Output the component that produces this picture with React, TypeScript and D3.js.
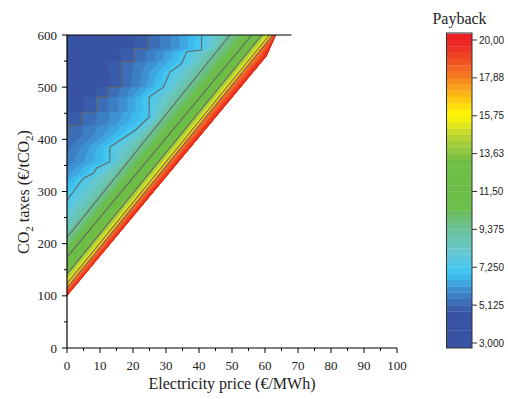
import React, { useMemo } from "react";
import * as d3 from "d3";

const WIDTH = 508;
const HEIGHT = 399;

// Axis ticks
const xTickValues = [0, 10, 20, 30, 40, 50, 60, 70, 80, 90, 100];
const xMinorTicks = [5, 15, 25, 35, 45, 55, 65, 75, 85, 95];
const yTickValues = [0, 100, 200, 300, 400, 500, 600];
const yMinorTicks = [50, 150, 250, 350, 450, 550];

// Colour scale ticks
const colorTickValues = [3, 5.125, 7.25, 9.375, 11.5, 13.625, 15.75, 17.875, 20];
const colorTickLabels = ["3,000", "5,125", "7,250", "9,375", "11,50", "13,63", "15,75", "17,88", "20,00"];

// Payback iso-lines: [electricity price, CO2 tax]
const isoLevels = [5.125, 7.25, 9.375, 11.5, 13.625, 15.75, 17.875, 20];
const iso5125: [number, number][] = [
  [-6, 356], [0, 404], [0.4, 404.5], [0.4, 427], [4.5, 427.5], [4.5, 452], [9, 452.5], [9, 481], [12.5, 481.5],
  [12.5, 500], [16.6, 500.5], [16.6, 549], [20.3, 549.5], [20.3, 574], [24.6, 574.5], [24.6, 600],
];
const iso725: [number, number][] = [
  [-6, 230], [0, 283], [4.9, 325], [8, 335], [9, 345], [13, 357], [13, 385], [20.6, 417], [24.9, 443],
  [24.9, 481], [29.2, 500], [31.2, 529], [34.7, 545], [36.3, 568], [40.8, 571], [40.8, 600],
];
const iso9375: [number, number][] = [[0, 212], [49.4, 600]];
const iso115: [number, number][] = [[0, 174], [56, 600]];
const iso13625: [number, number][] = [[0, 142], [59, 600]];
const iso1575: [number, number][] = [[0, 124], [61.3, 600]];
const iso17875: [number, number][] = [[0, 115], [62.4, 600]];
const iso20: [number, number][] = [[0, 100], [60.5, 560], [63.3, 600]];
const isoLines = [iso5125, iso725, iso9375, iso115, iso13625, iso1575, iso17875, iso20];

// Colour palette (payback value -> colour)
const paletteStops = [2.6, 4.75, 5.0, 5.4, 5.8, 6.2, 6.6, 7.0, 7.5, 8.1, 8.8, 9.4, 10.0, 10.6, 13.1, 13.7, 14.3, 14.9, 15.5, 15.9, 16.4, 16.9, 17.4, 17.9, 18.5, 19.1, 19.7, 20.4];
const paletteColors = ["#3953a4", "#3953a4", "#3a60ad", "#3b72ba", "#3d86c8", "#3e9bd8", "#3db3e8", "#3ec6f2", "#55c8e6", "#66c8cf", "#69c4b2", "#6ac199", "#6bbf75", "#6bbe4a", "#6dbe45", "#8bc640", "#a8cf38", "#cadc2a", "#f3ee10", "#fff200", "#fed80b", "#fcba13", "#f89c1c", "#f57f20", "#f26223", "#ef4524", "#ed2a24", "#ed1c24"];

function crossingX(line: [number, number][], yy: number) {
  let i = 0;
  while (i < line.length - 2 && yy > line[i + 1][1]) i++;
  const [x0, y0] = line[i];
  const [x1, y1] = line[i + 1];
  return x0 + ((yy - y0) * (x1 - x0)) / (y1 - y0);
}

function paybackAt(xx: number, xs: number[], ws: number[]) {
  const n = xs.length;
  let k = 0;
  if (xx <= xs[0]) k = 0;
  else if (xx >= xs[n - 1]) k = n - 2;
  else {
    while (xx > xs[k + 1]) k++;
  }
  const span = Math.max(1e-6, xs[k + 1] - xs[k]);
  const t = (xx - xs[k]) / span;
  const w = ws[k] + t * (ws[k + 1] - ws[k]);
  if (w <= 0.01) return 100;
  return Math.max(2.7, Math.min(100, 1 / w));
}

export default function App() {
  const x = d3.scaleLinear().domain([0, 100]).range([67, 397]);
  const y = d3.scaleLinear().domain([0, 600]).range([348, 35]);
  const cy = d3.scaleLinear().domain([3, 20]).range([343, 40]);
  const palette = d3
    .scaleLinear<string>()
    .domain(paletteStops)
    .range(paletteColors)
    .interpolate(d3.interpolateRgb)
    .clamp(true);

  const step = 17 / 48;
  const thresholds = d3.range(-1, 49).map((k) => 3 + k * step);

  const bands = useMemo(() => {
    const x0 = 0, dx = 0.25, nx = 270;
    const y0 = 90, dy = 1.5, ny = 345;
    const ws = isoLevels.map((v) => 1 / v);
    const values: number[] = new Array(nx * ny);
    for (let j = 0; j < ny; j++) {
      const yy = y0 + j * dy;
      const xs = isoLines.map((l) => crossingX(l, yy));
      for (let k = 1; k < xs.length; k++) if (xs[k] < xs[k - 1] + 0.05) xs[k] = xs[k - 1] + 0.05;
      for (let i = 0; i < nx; i++) {
        values[j * nx + i] = paybackAt(x0 + i * dx, xs, ws);
      }
    }
    const contours = d3.contours().size([nx, ny]).thresholds(thresholds)(values);
    const proj = d3.geoTransform({
      point(px: number, py: number) {
        (this as any).stream.point(x(x0 + (px - 0.5) * dx), y(y0 + (py - 0.5) * dy));
      },
    });
    const path = d3.geoPath(proj);
    return contours.map((c) => ({ d: path(c as any) || "", value: c.value }));
  }, []);

  const clipD =
    "M" +
    iso20.map((p) => `${x(p[0])},${y(p[1])}`).join("L") +
    `L${x(0)},${y(600)}Z`;

  const line = d3
    .line<[number, number]>()
    .x((d) => x(d[0]))
    .y((d) => y(d[1]));

  const serif = "'Liberation Serif', 'Times New Roman', serif";
  const sans = "'Liberation Sans', Arial, sans-serif";

  const barX0 = 446.5, barX1 = 472, barTop = 33, barBottom = 348;

  return (
    <svg width={WIDTH} height={HEIGHT} style={{ position: "absolute", left: 0, top: 0, background: "#fff" }}>
      <defs>
        <clipPath id="valid">
          <path d={clipD} />
        </clipPath>
        <clipPath id="bar">
          <rect x={barX0} y={barTop} width={barX1 - barX0} height={barBottom - barTop} />
        </clipPath>
      </defs>
      <g clipPath="url(#valid)">
        {bands.map((b, i) => (
          <path key={i} d={b.d} fill={palette(b.value + step / 2)} stroke="none" />
        ))}
        {isoLines.slice(0, 7).map((l, i) => (
          <path key={"l" + i} d={line(l) || ""} fill="none" stroke="#666" strokeWidth={1.1} />
        ))}
      </g>

      {/* axes */}
      <line x1={x(0)} x2={x(100)} y1={y(0)} y2={y(0)} stroke="#000" strokeWidth={1.2} />
      <line x1={x(0)} x2={x(0)} y1={y(0)} y2={y(600)} stroke="#000" strokeWidth={1.2} />
      <line x1={x(0)} x2={x(68)} y1={y(600)} y2={y(600)} stroke="#000" strokeWidth={1.2} />
      {xTickValues.map((v) => (
        <g key={"xt" + v}>
          <line x1={x(v)} x2={x(v)} y1={y(0)} y2={y(0) + 5} stroke="#000" strokeWidth={1} />
          <text x={x(v)} y={370} textAnchor="middle" fontFamily={serif} fontSize={13} fill="#222">
            {v}
          </text>
        </g>
      ))}
      {xMinorTicks.map((v) => (
        <line key={"xm" + v} x1={x(v)} x2={x(v)} y1={y(0)} y2={y(0) + 3} stroke="#000" strokeWidth={1} />
      ))}
      {yTickValues.map((v) => (
        <g key={"yt" + v}>
          <line x1={x(0) - 5} x2={x(0)} y1={y(v)} y2={y(v)} stroke="#000" strokeWidth={1} />
          <text x={57} y={y(v)} textAnchor="end" dominantBaseline="central" fontFamily={serif} fontSize={13} fill="#222">
            {v}
          </text>
        </g>
      ))}
      {yMinorTicks.map((v) => (
        <line key={"ym" + v} x1={x(0) - 3} x2={x(0)} y1={y(v)} y2={y(v)} stroke="#000" strokeWidth={1} />
      ))}

      <text x={232} y={389} textAnchor="middle" fontFamily={serif} fontSize={16} fill="#222">
        Electricity price (€/MWh)
      </text>
      <text transform="translate(29,192) rotate(-90)" textAnchor="middle" fontFamily={serif} fontSize={16} fill="#222">
        CO<tspan dy={4} fontSize={11}>2</tspan>
        <tspan dy={-4}> taxes (€/tCO</tspan>
        <tspan dy={4} fontSize={11}>2</tspan>
        <tspan dy={-4}>)</tspan>
      </text>

      {/* colour scale */}
      <text x={459.5} y={24} textAnchor="middle" fontFamily={serif} fontSize={16} fill="#222">
        Payback
      </text>
      <g clipPath="url(#bar)">
        {thresholds.map((t, i) => (
          <rect
            key={"cb" + i}
            x={barX0}
            width={barX1 - barX0}
            y={cy(t + step)}
            height={cy(t) - cy(t + step) + 0.3}
            fill={palette(t + step / 2)}
          />
        ))}
      </g>
      <rect x={barX0} y={barTop} width={barX1 - barX0} height={barBottom - barTop} fill="none" stroke="#333" strokeWidth={1} />
      {colorTickValues.map((v, i) => (
        <g key={"ct" + i}>
          <line x1={barX1} x2={barX1 + 5} y1={cy(v)} y2={cy(v)} stroke="#333" strokeWidth={1} />
          <text x={479} y={cy(v)} dominantBaseline="central" fontFamily={sans} fontSize={10} fill="#222">
            {colorTickLabels[i]}
          </text>
        </g>
      ))}
    </svg>
  );
}
